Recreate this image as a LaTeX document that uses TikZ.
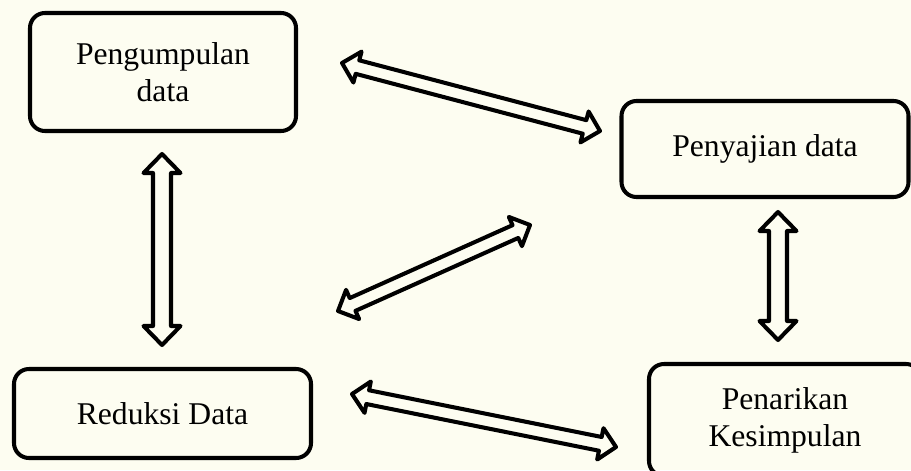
\documentclass[tikz,border=0pt]{standalone}
\usepackage{fontspec}
\setmainfont{Liberation Serif}
\usepackage{tikz}
\usetikzlibrary{calc}
\definecolor{paper}{HTML}{FDFDF1}
\tikzset{
  stagebox/.style={draw=black,line width=2.3pt,rounded corners=0.3cm,align=center,
    font=\fontsize{18}{21}\selectfont,inner sep=0pt},
  arrowline/.style={draw=black,line width=2.3pt,line join=round},
}
% hollow two-headed block arrow: ends, head length, head half width, shaft half width
\newcommand{\blockarrow}[5]{%
  \coordinate (ba1) at ($(#1)!#3!(#2)$);
  \coordinate (ba2) at ($(#2)!#3!(#1)$);
  \draw[arrowline] (#1)
    -- ($(ba1)!#4!90:(#2)$) -- ($(ba1)!#5!90:(#2)$)
    -- ($(ba2)!#5!-90:(#1)$) -- ($(ba2)!#4!-90:(#1)$)
    -- (#2)
    -- ($(ba2)!#4!90:(#1)$) -- ($(ba2)!#5!90:(#1)$)
    -- ($(ba1)!#5!-90:(#2)$) -- ($(ba1)!#4!-90:(#2)$)
    -- cycle;
}

\begin{document}
\begin{tikzpicture}
  \fill[paper] (0,0) rectangle (18.22,9.40);
  \useasboundingbox (0,0) rectangle (18.22,9.40);
  \clip (0,0) rectangle (18.22,9.40);
  \node[stagebox,minimum width=5.32cm,minimum height=2.36cm] (nPeng) at (3.26,7.96) {Pengumpulan\\data};
  \node[stagebox,minimum width=5.74cm,minimum height=1.92cm] (nSaji) at (15.30,6.42) {Penyajian data};
  \node[stagebox,minimum width=5.94cm,minimum height=1.78cm] (nRed) at (3.25,1.13) {Reduksi Data};
  \node[stagebox,minimum width=5.44cm,minimum height=2.24cm] (nTarik) at (15.70,1.00) {Penarikan\\Kesimpulan};
  % arrow ends
  \coordinate (pgDown) at (3.24,6.32);
  \coordinate (rdUp) at (3.24,2.50);
  \coordinate (sjDown) at (15.56,5.16);
  \coordinate (trUp) at (15.56,2.60);
  \coordinate (pgRight) at (6.84,8.14);
  \coordinate (sjLeft) at (12.00,6.78);
  \coordinate (rdCorner) at (6.76,3.18);
  \coordinate (sjCorner) at (10.60,4.90);
  \coordinate (rdRight) at (7.04,1.52);
  \coordinate (trLeft) at (12.32,0.46);
  \blockarrow{pgDown}{rdUp}{0.38cm}{0.37cm}{0.18cm}
  \blockarrow{sjDown}{trUp}{0.38cm}{0.37cm}{0.18cm}
  \blockarrow{pgRight}{sjLeft}{0.32cm}{0.32cm}{0.14cm}
  \blockarrow{rdCorner}{sjCorner}{0.32cm}{0.32cm}{0.14cm}
  \blockarrow{rdRight}{trLeft}{0.32cm}{0.32cm}{0.14cm}
\end{tikzpicture}
\end{document}
